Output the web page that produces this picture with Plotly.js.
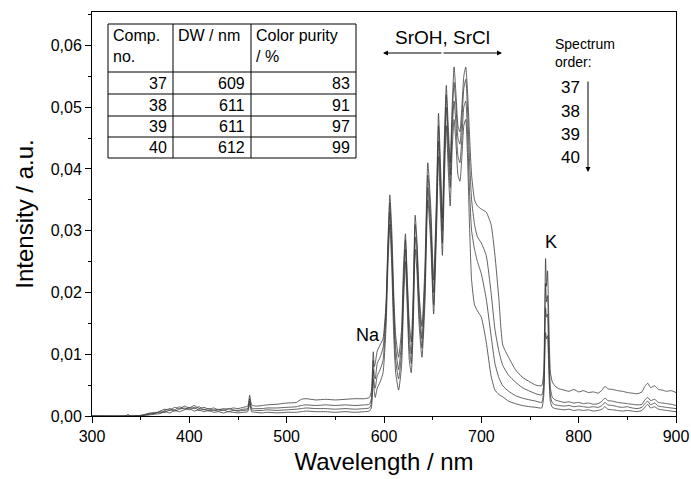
<!DOCTYPE html>
<html>
<head>
<meta charset="utf-8">
<script src="https://cdn.plot.ly/plotly-3.0.1.min.js"></script>
<style>html,body{margin:0;padding:0;background:#fff}#chart{width:691px;height:479px}</style>
</head>
<body>
<div id="chart"></div>
<script>
// Wavelength grid (nm)
const wavelength = [
  300, 335, 337, 339, 350, 355, 360, 365, 370, 375, 380, 385, 390, 395, 400, 405, 410, 415, 420, 425,
  430, 435, 440, 445, 450, 455, 460, 462, 464, 468, 475, 480, 490, 500, 510, 515, 520, 530, 540, 550,
  560, 570, 580,
  585, 587, 589, 590, 591, 593, 596, 599, 602, 604, 606, 608, 610, 612, 615, 618, 620, 622, 624, 626,
  628, 630, 632, 634, 636, 639, 642, 645, 648, 651, 654, 656, 658, 660, 662, 664, 666, 668, 670, 672,
  674, 676, 678, 680, 682, 684, 686, 688, 690, 693, 696,
  700, 705, 710, 714, 718, 722, 728, 735, 742, 750, 756, 762, 764, 765, 766, 767, 768, 769, 770, 771,
  773, 776, 780, 785, 790, 795, 800, 805, 810, 815, 820, 824, 827, 830, 835, 840, 845, 850, 855, 860,
  865, 868, 871, 874, 878, 882, 886, 890, 895, 900
];

// Intensity (a.u.) for compounds 37..40
const comp37 = [
  0, 0, 0.0003, 0, 0.0001, 0.0003, 0.0005, 0.0004, 0.0008, 0.0011,
  0.0009, 0.0014, 0.0012, 0.0016, 0.0013, 0.0017, 0.0012, 0.0014, 0.0011, 0.0013,
  0.0010, 0.0012, 0.0011, 0.0013, 0.0012, 0.0014, 0.0016, 0.0034, 0.0018, 0.0016,
  0.0017, 0.0018, 0.0019, 0.0021, 0.0022, 0.0027, 0.0028, 0.0026, 0.0027, 0.0026,
  0.0027, 0.0028, 0.0028,
  0.0030, 0.0040, 0.0104, 0.0080, 0.0085, 0.0105, 0.0115, 0.0125, 0.0180, 0.0280,
  0.0358, 0.0300, 0.0200, 0.0130, 0.0095, 0.0140, 0.0240, 0.0295, 0.0220, 0.0150,
  0.0120, 0.0200, 0.0325, 0.0280, 0.0200, 0.0145, 0.0240, 0.0410, 0.0340, 0.0220,
  0.0360, 0.0490, 0.0410, 0.0320, 0.0450, 0.0535, 0.0470, 0.0410, 0.0500, 0.0565,
  0.0520, 0.0470, 0.0460, 0.0500, 0.0550, 0.0565, 0.0520, 0.0450, 0.0390, 0.0350,
  0.0340,
  0.0335, 0.0330, 0.0310, 0.0260, 0.0190, 0.0115, 0.0095, 0.0075, 0.0063, 0.0055,
  0.0050, 0.0049, 0.0070, 0.0150, 0.0255, 0.0210, 0.0235, 0.0180, 0.0110, 0.0070,
  0.0055, 0.0048, 0.0044, 0.0042, 0.0040, 0.0043, 0.0039, 0.0041, 0.0038, 0.0039,
  0.0037, 0.0042, 0.0048, 0.0044, 0.0043, 0.0041, 0.0040, 0.0038, 0.0037, 0.0036,
  0.0039, 0.0048, 0.0053, 0.0046, 0.0049, 0.0043, 0.0042, 0.0040, 0.0041, 0.0038
];
const comp38 = [
  0, 0, 0, 0, 0.0001, 0.0002, 0.0004, 0.0006, 0.0005, 0.0009,
  0.0012, 0.0010, 0.0015, 0.0011, 0.0014, 0.0012, 0.0015, 0.0010, 0.0012, 0.0009,
  0.0011, 0.0009, 0.0012, 0.0010, 0.0009, 0.0011, 0.0012, 0.0028, 0.0013, 0.0012,
  0.0012, 0.0013, 0.0013, 0.0014, 0.0015, 0.0017, 0.0018, 0.0017, 0.0018, 0.0017,
  0.0018, 0.0017, 0.0018,
  0.0019, 0.0028, 0.0090, 0.0065, 0.0060, 0.0085, 0.0095, 0.0110, 0.0170, 0.0270,
  0.0345, 0.0280, 0.0180, 0.0110, 0.0075, 0.0120, 0.0220, 0.0285, 0.0210, 0.0130,
  0.0100, 0.0180, 0.0310, 0.0270, 0.0190, 0.0125, 0.0220, 0.0390, 0.0320, 0.0200,
  0.0340, 0.0470, 0.0390, 0.0300, 0.0430, 0.0520, 0.0450, 0.0390, 0.0480, 0.0540,
  0.0500, 0.0450, 0.0440, 0.0480, 0.0530, 0.0545, 0.0490, 0.0410, 0.0350, 0.0310,
  0.0290,
  0.0280, 0.0260, 0.0200, 0.0140, 0.0105, 0.0082, 0.0066, 0.0055, 0.0046, 0.0040,
  0.0036, 0.0034, 0.0050, 0.0120, 0.0215, 0.0185, 0.0195, 0.0140, 0.0080, 0.0045,
  0.0030, 0.0026, 0.0024, 0.0022, 0.0023, 0.0021, 0.0022, 0.0020, 0.0021, 0.0019,
  0.0020, 0.0024, 0.0029, 0.0025, 0.0024, 0.0022, 0.0021, 0.0020, 0.0019, 0.0018,
  0.0019, 0.0026, 0.0030, 0.0025, 0.0027, 0.0022, 0.0021, 0.0020, 0.0019, 0.0017
];
const comp39 = [
  0, 0, 0, 0, 0, 0.0002, 0.0003, 0.0005, 0.0007, 0.0006,
  0.0010, 0.0008, 0.0011, 0.0013, 0.0010, 0.0014, 0.0009, 0.0011, 0.0008, 0.0010,
  0.0008, 0.0010, 0.0007, 0.0009, 0.0008, 0.0009, 0.0010, 0.0024, 0.0010, 0.0009,
  0.0009, 0.0010, 0.0009, 0.0010, 0.0011, 0.0012, 0.0013, 0.0012, 0.0012, 0.0011,
  0.0012, 0.0011, 0.0012,
  0.0013, 0.0020, 0.0075, 0.0050, 0.0045, 0.0065, 0.0075, 0.0090, 0.0160, 0.0260,
  0.0330, 0.0260, 0.0160, 0.0090, 0.0060, 0.0100, 0.0200, 0.0270, 0.0190, 0.0110,
  0.0085, 0.0160, 0.0290, 0.0250, 0.0170, 0.0110, 0.0200, 0.0370, 0.0300, 0.0180,
  0.0320, 0.0445, 0.0370, 0.0280, 0.0410, 0.0500, 0.0430, 0.0370, 0.0460, 0.0510,
  0.0470, 0.0420, 0.0410, 0.0450, 0.0500, 0.0510, 0.0450, 0.0360, 0.0300, 0.0270,
  0.0250,
  0.0230, 0.0190, 0.0130, 0.0085, 0.0062, 0.0049, 0.0040, 0.0033, 0.0029, 0.0026,
  0.0024, 0.0022, 0.0040, 0.0100, 0.0175, 0.0160, 0.0165, 0.0110, 0.0060, 0.0032,
  0.0021, 0.0018, 0.0017, 0.0016, 0.0017, 0.0015, 0.0016, 0.0015, 0.0014, 0.0015,
  0.0014, 0.0017, 0.0022, 0.0018, 0.0017, 0.0015, 0.0014, 0.0015, 0.0013, 0.0012,
  0.0014, 0.0020, 0.0024, 0.0018, 0.0021, 0.0016, 0.0015, 0.0014, 0.0013, 0.0012
];
const comp40 = [
  0, 0, 0, 0, 0, 0.0001, 0.0002, 0.0003, 0.0004, 0.0007,
  0.0005, 0.0009, 0.0007, 0.0010, 0.0012, 0.0008, 0.0010, 0.0007, 0.0009, 0.0006,
  0.0007, 0.0005, 0.0007, 0.0006, 0.0005, 0.0006, 0.0007, 0.0020, 0.0007, 0.0006,
  0.0005, 0.0006, 0.0005, 0.0006, 0.0006, 0.0007, 0.0008, 0.0007, 0.0007, 0.0006,
  0.0007, 0.0006, 0.0007,
  0.0008, 0.0013, 0.0060, 0.0040, 0.0030, 0.0045, 0.0055, 0.0070, 0.0140, 0.0240,
  0.0310, 0.0240, 0.0130, 0.0070, 0.0042, 0.0080, 0.0180, 0.0250, 0.0170, 0.0090,
  0.0070, 0.0140, 0.0270, 0.0230, 0.0150, 0.0095, 0.0180, 0.0350, 0.0280, 0.0165,
  0.0300, 0.0420, 0.0340, 0.0260, 0.0380, 0.0470, 0.0400, 0.0340, 0.0430, 0.0480,
  0.0440, 0.0390, 0.0380, 0.0420, 0.0470, 0.0480, 0.0410, 0.0300, 0.0220, 0.0180,
  0.0170,
  0.0160, 0.0120, 0.0065, 0.0042, 0.0035, 0.0031, 0.0024, 0.0020, 0.0017, 0.0015,
  0.0014, 0.0013, 0.0030, 0.0080, 0.0135, 0.0125, 0.0130, 0.0090, 0.0045, 0.0022,
  0.0014, 0.0012, 0.0011, 0.0010, 0.0011, 0.0009, 0.0010, 0.0009, 0.0010, 0.0008,
  0.0009, 0.0011, 0.0015, 0.0011, 0.0010, 0.0009, 0.0008, 0.0009, 0.0008, 0.0007,
  0.0009, 0.0014, 0.0019, 0.0013, 0.0015, 0.0011, 0.0010, 0.0009, 0.0008, 0.0007
];

// Table content
const tableHeader = ["Comp.<br>no.", "DW / nm", "Color purity<br>/ %"];
const compNo = ["37", "38", "39", "40"];
const dominantWavelength = ["609", "611", "611", "612"];
const colorPurity = ["83", "91", "97", "99"];
const spectrumOrder = ["37", "38", "39", "40"];

const seriesList = [comp37, comp38, comp39, comp40];
const FONT = "Arial, 'Liberation Sans', sans-serif";

// pixel -> paper helpers (plot area: x 92..676, y 12..416)
const L = 92, R = 676, T = 12, B = 416;
const px = x => (x - L) / (R - L);
const py = y => (B - y) / (B - T);

const traces = seriesList.map((s, i) => ({
  x: wavelength, y: s, type: 'scatter', mode: 'lines',
  name: spectrumOrder[i],
  line: {color: '#3a3a3a', width: 0.8, shape: 'spline', smoothing: 0.5},
  hoverinfo: 'skip'
}));

const shapes = [];
const annotations = [];
// table geometry
const tL = 108, tR = 356, tTop = 24, colA = 173, colB = 251;
const rowLines = [72, 94, 116, 137, 158];
shapes.push({type: 'rect', xref: 'paper', yref: 'paper', x0: px(tL), x1: px(tR), y0: py(rowLines[4]), y1: py(tTop),
  line: {color: '#000', width: 1}, fillcolor: '#fff', layer: 'above'});
[colA, colB].forEach(c => shapes.push({type: 'line', xref: 'paper', yref: 'paper', x0: px(c), x1: px(c),
  y0: py(rowLines[4]), y1: py(tTop), line: {color: '#000', width: 1}}));
rowLines.slice(0, 4).forEach(r => shapes.push({type: 'line', xref: 'paper', yref: 'paper', x0: px(tL), x1: px(tR),
  y0: py(r), y1: py(r), line: {color: '#000', width: 1}}));

const TF = 16;
const headerX = [tL + 3, colA + 3, colB + 3];
tableHeader.forEach((h, i) => annotations.push({xref: 'paper', yref: 'paper', x: px(headerX[i]), y: py(tTop + 1),
  xanchor: 'left', yanchor: 'top', align: 'left', text: h, showarrow: false,
  font: {family: FONT, size: TF, color: '#000'}}));
const rightX = [colA - 4, colB - 4, tR - 4];
for (let r = 0; r < 4; r++) {
  const yc = (rowLines[r] + rowLines[r + 1]) / 2;
  [compNo[r], dominantWavelength[r], colorPurity[r]].forEach((t, c) => annotations.push({
    xref: 'paper', yref: 'paper', x: px(rightX[c]), y: py(yc), xanchor: 'right', yanchor: 'middle',
    text: t, showarrow: false, font: {family: FONT, size: TF, color: '#000'}}));
}

// band label with double arrow
annotations.push({xref: 'paper', yref: 'paper', x: px(442), y: py(37), text: 'SrOH, SrCl', showarrow: false,
  xanchor: 'center', yanchor: 'middle', font: {family: FONT, size: 19, color: '#000'}});
annotations.push({xref: 'paper', yref: 'paper', x: px(383), y: py(53), text: '', showarrow: true,
  ax: 60, ay: 0, arrowhead: 2, arrowsize: 1, arrowwidth: 1, arrowcolor: '#000'});
annotations.push({xref: 'paper', yref: 'paper', x: px(502), y: py(53), text: '', showarrow: true,
  ax: -60, ay: 0, arrowhead: 2, arrowsize: 1, arrowwidth: 1, arrowcolor: '#000'});

// Spectrum order legend
annotations.push({xref: 'paper', yref: 'paper', x: px(553), y: py(34), text: 'Spectrum<br>order:', showarrow: false,
  xanchor: 'left', yanchor: 'top', align: 'left', font: {family: FONT, size: 14, color: '#000'}});
const orderY = [88, 111, 134, 157];
spectrumOrder.forEach((t, i) => annotations.push({xref: 'paper', yref: 'paper', x: px(582), y: py(orderY[i]),
  text: t, showarrow: false, xanchor: 'right', yanchor: 'middle', font: {family: FONT, size: 17, color: '#000'}}));
annotations.push({xref: 'paper', yref: 'paper', x: px(588), y: py(172), text: '', showarrow: true,
  ax: 0, ay: -92, arrowhead: 2, arrowsize: 1, arrowwidth: 1, arrowcolor: '#000'});

// peak labels
annotations.push({xref: 'paper', yref: 'paper', x: px(368), y: py(335), text: 'Na', showarrow: false,
  xanchor: 'center', yanchor: 'middle', font: {family: FONT, size: 18, color: '#000'}});
annotations.push({xref: 'paper', yref: 'paper', x: px(551), y: py(242), text: 'K', showarrow: false,
  xanchor: 'center', yanchor: 'middle', font: {family: FONT, size: 18, color: '#000'}});

const axisCommon = {
  showgrid: false, zeroline: false, showline: true, linecolor: '#000', linewidth: 1, mirror: true,
  ticks: 'outside', ticklen: 6, tickwidth: 1, tickcolor: '#000',
  tickfont: {family: FONT, size: 16, color: '#000'}
};

const layout = {
  width: 691, height: 479,
  margin: {l: L, r: 691 - R, t: T, b: 479 - B},
  paper_bgcolor: '#fff', plot_bgcolor: '#fff',
  separators: ',.',
  showlegend: false,
  xaxis: Object.assign({}, axisCommon, {
    range: [300, 900], dtick: 100, tick0: 300,
    minor: {ticks: 'outside', ticklen: 3, dtick: 50, tickcolor: '#000'},
    title: {text: 'Wavelength / nm', font: {family: FONT, size: 24, color: '#000'}, standoff: 8}
  }),
  yaxis: Object.assign({}, axisCommon, {
    range: [0, 0.0654], dtick: 0.01, tick0: 0, tickformat: '.2f',
    minor: {ticks: 'outside', ticklen: 3, dtick: 0.005, tickcolor: '#000'},
    title: {text: 'Intensity / a.u.', font: {family: FONT, size: 24, color: '#000'}, standoff: 10}
  }),
  shapes: shapes,
  annotations: annotations
};

Plotly.newPlot('chart', traces, layout, {staticPlot: true, displayModeBar: false});
</script>
</body>
</html>
